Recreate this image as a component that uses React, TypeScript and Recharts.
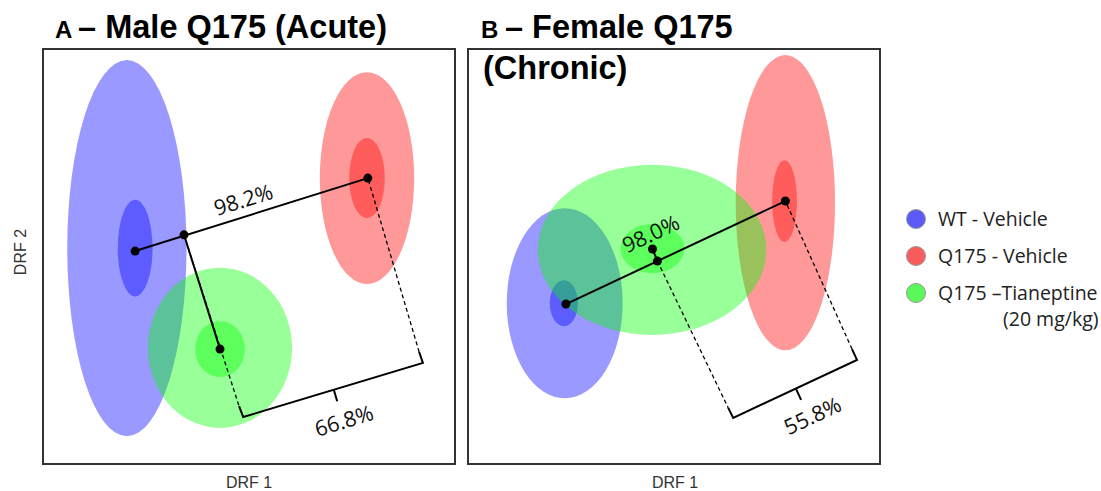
import React from "react";
import { ScatterChart, Scatter, XAxis, YAxis } from "recharts";

// groups shared by both panels
const GROUPS = ["WT - Vehicle", "Q175 - Vehicle", "Q175 –Tianeptine"];
const GROUP_SUB = ["", "", "(20 mg/kg)"];
const FILLS = ["#0000ff", "#ff0000", "#00ff00"];
const LEGEND_FILLS = ["#5b5bf8", "#f85b5b", "#5bf85b"];

// DRF space, both axes 0..10
const DOMAIN: [number, number] = [0, 10];
const W = 414;
const H = 417;
const PX_X = W / (DOMAIN[1] - DOMAIN[0]);
const PX_Y = H / (DOMAIN[1] - DOMAIN[0]);

// ---- panel A : male, acute ----
const A_OUTER = [
  { g: 0, x: 2.05, y: 5.2, rx: 1.44, ry: 4.51 },
  { g: 1, x: 7.85, y: 6.88, rx: 1.14, ry: 2.54 },
  { g: 2, x: 4.3, y: 2.81, rx: 1.74, ry: 1.92 },
];
const A_INNER = [
  { g: 0, x: 2.25, y: 5.2, rx: 0.42, ry: 1.16 },
  { g: 1, x: 7.85, y: 6.88, rx: 0.43, ry: 0.96 },
  { g: 2, x: 4.3, y: 2.78, rx: 0.6, ry: 0.67 },
];
const A_CENTROIDS = [
  { x: 2.25, y: 5.13 },
  { x: 7.87, y: 6.88 },
  { x: 4.3, y: 2.78 },
];
const A_PROJ = { x: 3.43, y: 5.52 };
const A_BRACKET = [
  { x: 4.76, y: 1.41 },
  { x: 4.86, y: 1.15 },
  { x: 9.2, y: 2.45 },
  { x: 9.11, y: 2.71 },
];
const A_TICK = [
  { x: 7.05, y: 1.8 },
  { x: 7.13, y: 1.53 },
];
const A_LABELS = [
  { x: 4.86, y: 6.38, text: "98.2%" },
  { x: 7.29, y: 1.08, text: "66.8%" },
];

// ---- panel B : female, chronic ----
const B_OUTER = [
  { g: 0, x: 2.36, y: 3.88, rx: 1.4, ry: 2.28 },
  { g: 1, x: 7.69, y: 6.29, rx: 1.2, ry: 3.54 },
  { g: 2, x: 4.47, y: 5.16, rx: 2.76, ry: 2.04 },
];
const B_INNER = [
  { g: 0, x: 2.34, y: 3.88, rx: 0.34, ry: 0.55 },
  { g: 1, x: 7.67, y: 6.33, rx: 0.3, ry: 0.98 },
  { g: 2, x: 4.48, y: 5.19, rx: 0.77, ry: 0.59 },
];
const B_CENTROIDS = [
  { x: 2.39, y: 3.86 },
  { x: 7.69, y: 6.33 },
  { x: 4.48, y: 5.18 },
];
const B_PROJ = { x: 4.6, y: 4.89 };
const B_BRACKET = [
  { x: 6.31, y: 1.37 },
  { x: 6.43, y: 1.13 },
  { x: 9.42, y: 2.52 },
  { x: 9.3, y: 2.78 },
];
const B_TICK = [
  { x: 7.95, y: 1.82 },
  { x: 8.07, y: 1.56 },
];
const B_LABELS = [
  { x: 4.43, y: 5.56, text: "98.0%" },
  { x: 8.34, y: 1.2, text: "55.8%" },
];

const Empty = () => <g />;

const EllipseShape = (p: any) => {
  const d = p.payload;
  return (
    <ellipse
      cx={p.cx}
      cy={p.cy}
      rx={d.rx * PX_X}
      ry={d.ry * PX_Y}
      fill={FILLS[d.g]}
      fillOpacity={0.4}
    />
  );
};

const DotShape = (p: any) => <circle cx={p.cx} cy={p.cy} r={4.5} fill="#000" />;

const makeLabel = (angle: number) => (p: any) => (
  <text
    x={p.cx}
    y={p.cy}
    textAnchor="middle"
    dominantBaseline="central"
    transform={`rotate(${angle} ${p.cx} ${p.cy})`}
    fontFamily="'Open Sans', sans-serif"
    fontSize={21.5}
    fill="#111"
  >
    {p.payload.text}
  </text>
);

const solid = { stroke: "#000", strokeWidth: 2 };
const dashed = { stroke: "#000", strokeWidth: 1.3, strokeDasharray: "4 3" };

function Panel({ outer, inner, centroids, proj, bracket, tick, labels, angle, perpFrom }: any) {
  // each group: outer region first, then its inner core
  const ellipses = outer.flatMap((o: any, i: number) => [o, inner[i]]);
  const main = [centroids[0], centroids[1]];
  const perp = [perpFrom, proj];
  const dashL = [proj, bracket[0]];
  const dashR = [bracket[3], centroids[1]];
  const LabelShape = makeLabel(angle);
  return (
    <ScatterChart width={W} height={H} margin={{ top: 0, right: 0, bottom: 0, left: 0 }}>
      <XAxis type="number" dataKey="x" domain={DOMAIN} hide />
      <YAxis type="number" dataKey="y" domain={DOMAIN} hide />
      <Scatter data={ellipses} shape={EllipseShape} isAnimationActive={false} />
      <Scatter data={main} line={solid} shape={Empty} isAnimationActive={false} />
      <Scatter data={perp} line={solid} shape={Empty} isAnimationActive={false} />
      <Scatter data={dashL} line={dashed} shape={Empty} isAnimationActive={false} />
      <Scatter data={dashR} line={dashed} shape={Empty} isAnimationActive={false} />
      <Scatter data={bracket} line={solid} shape={Empty} isAnimationActive={false} />
      <Scatter data={tick} line={solid} shape={Empty} isAnimationActive={false} />
      <Scatter data={[...centroids, proj]} shape={DotShape} isAnimationActive={false} />
      <Scatter data={labels} shape={LabelShape} isAnimationActive={false} />
    </ScatterChart>
  );
}

const box = (left: number): React.CSSProperties => ({
  position: "absolute",
  left,
  top: 48,
  width: W,
  height: H,
  border: "2px solid #333",
  boxSizing: "border-box",
  pointerEvents: "none",
});

export default function App() {
  const title = "'Liberation Sans', Arial, sans-serif";
  const body = "'Open Sans', sans-serif";
  return (
    <div style={{ position: "absolute", left: 0, top: 0, width: 1101, height: 491, background: "#fff" }}>
      <div style={{ position: "absolute", left: 42, top: 48 }}>
        <Panel
          outer={A_OUTER}
          inner={A_INNER}
          centroids={A_CENTROIDS}
          proj={A_PROJ}
          perpFrom={A_CENTROIDS[2]}
          bracket={A_BRACKET}
          tick={A_TICK}
          labels={A_LABELS}
          angle={-17}
        />
      </div>
      <div style={{ position: "absolute", left: 467, top: 48 }}>
        <Panel
          outer={B_OUTER}
          inner={B_INNER}
          centroids={B_CENTROIDS}
          proj={B_PROJ}
          perpFrom={B_CENTROIDS[2]}
          bracket={B_BRACKET}
          tick={B_TICK}
          labels={B_LABELS}
          angle={-25}
        />
      </div>
      <div style={box(42)} />
      <div style={box(467)} />
      <svg width={1101} height={491} style={{ position: "absolute", left: 0, top: 0, pointerEvents: "none" }}>
        <text x={55} y={38} fontFamily={title} fontWeight="bold" fill="#000">
          <tspan fontSize={24}>A </tspan>
          <tspan fontSize={32.5}>– Male Q175 (Acute)</tspan>
        </text>
        <text x={481} y={38} fontFamily={title} fontWeight="bold" fill="#000">
          <tspan fontSize={24}>B </tspan>
          <tspan fontSize={32.5}>– Female Q175</tspan>
        </text>
        <text x={483} y={79} fontFamily={title} fontWeight="bold" fontSize={32.5} fill="#000">
          (Chronic)
        </text>
        <text x={249} y={488} textAnchor="middle" fontFamily={title} fontSize={16} fill="#333">
          DRF 1
        </text>
        <text x={675} y={488} textAnchor="middle" fontFamily={title} fontSize={16} fill="#333">
          DRF 1
        </text>
        <text
          x={26}
          y={252}
          textAnchor="middle"
          fontFamily={title}
          fontSize={16}
          fill="#333"
          transform="rotate(-90 26 252)"
        >
          DRF 2
        </text>
        {GROUPS.map((g, i) => (
          <g key={g}>
            <circle cx={916} cy={219 + i * 37} r={9.5} fill={LEGEND_FILLS[i]} stroke="#999" strokeWidth={1} />
            <text x={938} y={226 + i * 37} fontFamily={body} fontSize={19.5} fill="#222">
              {g}
            </text>
            {GROUP_SUB[i] && (
              <text x={1003} y={326} fontFamily={body} fontSize={19.5} fill="#222">
                {GROUP_SUB[i]}
              </text>
            )}
          </g>
        ))}
      </svg>
    </div>
  );
}
